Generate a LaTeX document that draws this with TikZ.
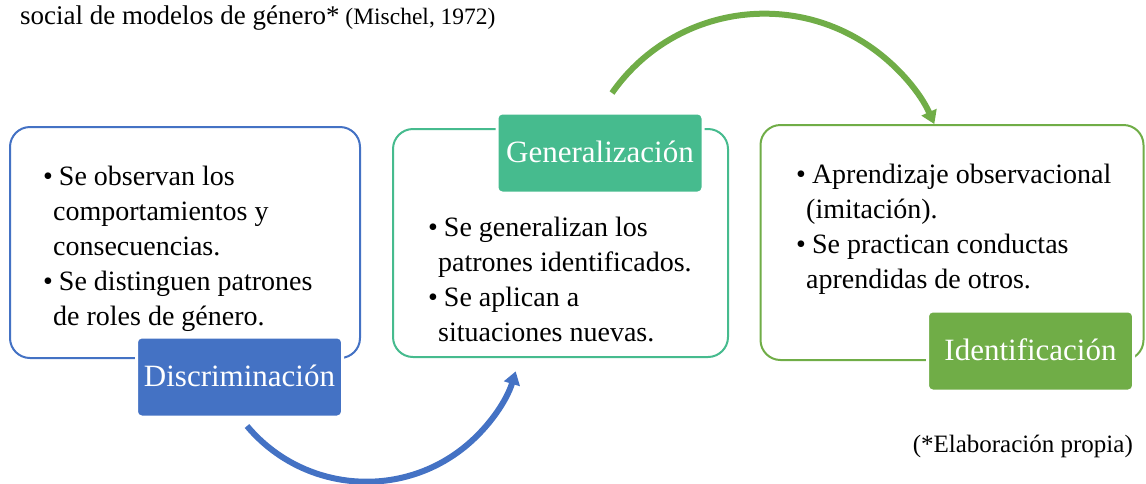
\documentclass[tikz,border=0pt]{standalone}
\usepackage{fontspec}
\setmainfont{Liberation Serif}
\usepackage{xcolor}
\definecolor{discBlue}{HTML}{4472C4}
\definecolor{genTeal}{HTML}{46BB8E}
\definecolor{idenGreen}{HTML}{70AD47}
\usetikzlibrary{positioning,calc,arrows.meta}
\tikzset{%
  stageBox/.style={%
    rectangle,
    rounded corners=20pt,
    line width=2pt,
    fill=white
  },
  stageLabel/.style={%
    rectangle,
    rounded corners=5pt,
    draw=white,
    line width=3pt,
    text=white,
    minimum width=206pt,
    minimum height=80pt,
    text height=22pt,
    text depth=4pt,
    inner sep=0pt,
    font=\fontsize{31}{36}\selectfont
  },
  bulletText/.style={%
    anchor=base west,
    inner sep=0pt,
    align=left,
    font=\fontsize{28}{35}\selectfont
  },
  cycleArrow/.style={%
    -{Triangle[length=13pt,width=16pt]},
    line width=6pt
  }
}
\newcommand{\bitem}{\textbullet\hspace{6pt}}
\newcommand{\bcont}{\hspace*{10pt}}

\begin{document}
\begin{tikzpicture}[x=1pt,y=1pt]
  \useasboundingbox (0,0) rectangle (1146,-483);

  \node[anchor=base west, inner sep=0pt] (title) at (20,-24)
    {\fontsize{27}{30}\selectfont social de modelos de género*\fontsize{23.5}{28}\selectfont{} (Mischel, 1972)};

  % boxes
  \node[stageBox, draw=discBlue, minimum width=350pt, minimum height=231pt] (discBox) at (185,-242.5) {};
  \node[stageBox, draw=genTeal, minimum width=335pt, minimum height=228pt] (genBox) at (560.5,-243) {};
  \node[stageBox, draw=idenGreen, minimum width=383pt, minimum height=235pt] (idenBox) at (952,-242.5) {};

  % labels
  \node[stageLabel, fill=discBlue] (discLabel) at (239.5,-377) {Discriminación};
  \node[stageLabel, fill=genTeal] (genLabel) at (600,-153) {Generalización};
  \node[stageLabel, fill=idenGreen] (idenLabel) at (1030.5,-351) {Identificación};

  % texts (base = last line)
  \node[bulletText] (discText) at (43,-325)
    {\bitem Se observan los\\ \bcont comportamientos y\\ \bcont consecuencias.\\
     \bitem Se distinguen patrones\\ \bcont de roles de género.};
  \node[bulletText] (genText) at (428,-341)
    {\bitem Se generalizan los\\ \bcont patrones identificados.\\
     \bitem Se aplican a\\ \bcont situaciones nuevas.};
  \node[bulletText] (idenText) at (796,-288)
    {\bitem Aprendizaje observacional\\ \bcont (imitación).\\
     \bitem Se practican conductas\\ \bcont aprendidas de otros.};

  \node[anchor=base east, inner sep=0pt, font=\fontsize{25}{28}\selectfont] (source) at (1133,-452)
    {(*Elaboración propia)};

  % arrows
  \coordinate (discOut) at (247,-426);
  \coordinate (genOut) at (612,-93);
  \draw[cycleArrow, discBlue] (discOut) arc[start angle=220, end angle=343, radius=156];
  \draw[cycleArrow, idenGreen] (genOut) arc[start angle=145, end angle=24, radius=186];
\end{tikzpicture}
\end{document}
